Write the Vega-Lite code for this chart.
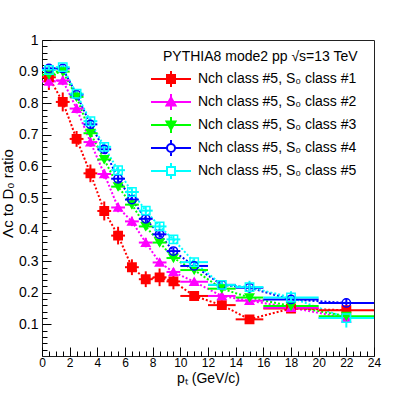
{
  "$schema": "https://vega.github.io/schema/vega-lite/v6.json",
  "width": 332,
  "height": 316,
  "autosize": "none",
  "padding": {"left": 42, "top": 40, "right": 41, "bottom": 41},
  "background": "white",
  "title": {"text": "PYTHIA8 mode2 pp √s=13 TeV", "anchor": "start", "frame": "group", "orient": "top", "offset": 0, "dx": 121, "dy": 42, "baseline": "alphabetic", "fontSize": 14, "fontWeight": "normal", "color": "#000", "font": "Liberation Sans"},
  "config": {
    "font": "Liberation Sans",
    "view": {"stroke": "#222", "strokeWidth": 1},
    "axis": {"grid": false, "domain": false, "tickColor": "#000", "labelColor": "#000", "titleColor": "#000", "titleFontWeight": "normal", "tickWidth": 1}
  },
  "data": {"values": [
    {"s": "Nch class #5, S₀ class #1", "pt": 0.5, "ex": 0.5, "v": 0.882, "ey": 0.04},
    {"s": "Nch class #5, S₀ class #1", "pt": 1.5, "ex": 0.5, "v": 0.804, "ey": 0.03},
    {"s": "Nch class #5, S₀ class #1", "pt": 2.5, "ex": 0.5, "v": 0.687, "ey": 0.025},
    {"s": "Nch class #5, S₀ class #1", "pt": 3.5, "ex": 0.5, "v": 0.578, "ey": 0.028},
    {"s": "Nch class #5, S₀ class #1", "pt": 4.5, "ex": 0.5, "v": 0.459, "ey": 0.03},
    {"s": "Nch class #5, S₀ class #1", "pt": 5.5, "ex": 0.5, "v": 0.381, "ey": 0.028},
    {"s": "Nch class #5, S₀ class #1", "pt": 6.5, "ex": 0.5, "v": 0.281, "ey": 0.025},
    {"s": "Nch class #5, S₀ class #1", "pt": 7.5, "ex": 0.5, "v": 0.243, "ey": 0.025},
    {"s": "Nch class #5, S₀ class #1", "pt": 8.5, "ex": 0.5, "v": 0.249, "ey": 0.028},
    {"s": "Nch class #5, S₀ class #1", "pt": 9.5, "ex": 0.5, "v": 0.236, "ey": 0.025},
    {"s": "Nch class #5, S₀ class #1", "pt": 11, "ex": 1, "v": 0.19, "ey": 0.015},
    {"s": "Nch class #5, S₀ class #1", "pt": 13, "ex": 1, "v": 0.161, "ey": 0.015},
    {"s": "Nch class #5, S₀ class #1", "pt": 15, "ex": 1, "v": 0.116, "ey": 0.012},
    {"s": "Nch class #5, S₀ class #1", "pt": 18, "ex": 2, "v": 0.15, "ey": 0.012},
    {"s": "Nch class #5, S₀ class #1", "pt": 22, "ex": 2, "v": 0.145, "ey": 0.015},
    {"s": "Nch class #5, S₀ class #2", "pt": 0.5, "ex": 0.5, "v": 0.869, "ey": 0.02},
    {"s": "Nch class #5, S₀ class #2", "pt": 1.5, "ex": 0.5, "v": 0.872, "ey": 0.015},
    {"s": "Nch class #5, S₀ class #2", "pt": 2.5, "ex": 0.5, "v": 0.783, "ey": 0.015},
    {"s": "Nch class #5, S₀ class #2", "pt": 3.5, "ex": 0.5, "v": 0.677, "ey": 0.015},
    {"s": "Nch class #5, S₀ class #2", "pt": 4.5, "ex": 0.5, "v": 0.576, "ey": 0.015},
    {"s": "Nch class #5, S₀ class #2", "pt": 5.5, "ex": 0.5, "v": 0.47, "ey": 0.015},
    {"s": "Nch class #5, S₀ class #2", "pt": 6.5, "ex": 0.5, "v": 0.426, "ey": 0.015},
    {"s": "Nch class #5, S₀ class #2", "pt": 7.5, "ex": 0.5, "v": 0.359, "ey": 0.015},
    {"s": "Nch class #5, S₀ class #2", "pt": 8.5, "ex": 0.5, "v": 0.296, "ey": 0.012},
    {"s": "Nch class #5, S₀ class #2", "pt": 9.5, "ex": 0.5, "v": 0.266, "ey": 0.012},
    {"s": "Nch class #5, S₀ class #2", "pt": 11, "ex": 1, "v": 0.235, "ey": 0.01},
    {"s": "Nch class #5, S₀ class #2", "pt": 13, "ex": 1, "v": 0.19, "ey": 0.01},
    {"s": "Nch class #5, S₀ class #2", "pt": 15, "ex": 1, "v": 0.175, "ey": 0.01},
    {"s": "Nch class #5, S₀ class #2", "pt": 18, "ex": 2, "v": 0.153, "ey": 0.01},
    {"s": "Nch class #5, S₀ class #2", "pt": 22, "ex": 2, "v": 0.12, "ey": 0.012},
    {"s": "Nch class #5, S₀ class #3", "pt": 0.5, "ex": 0.5, "v": 0.89, "ey": 0.015},
    {"s": "Nch class #5, S₀ class #3", "pt": 1.5, "ex": 0.5, "v": 0.9, "ey": 0.012},
    {"s": "Nch class #5, S₀ class #3", "pt": 2.5, "ex": 0.5, "v": 0.82, "ey": 0.012},
    {"s": "Nch class #5, S₀ class #3", "pt": 3.5, "ex": 0.5, "v": 0.705, "ey": 0.012},
    {"s": "Nch class #5, S₀ class #3", "pt": 4.5, "ex": 0.5, "v": 0.622, "ey": 0.012},
    {"s": "Nch class #5, S₀ class #3", "pt": 5.5, "ex": 0.5, "v": 0.536, "ey": 0.012},
    {"s": "Nch class #5, S₀ class #3", "pt": 6.5, "ex": 0.5, "v": 0.479, "ey": 0.012},
    {"s": "Nch class #5, S₀ class #3", "pt": 7.5, "ex": 0.5, "v": 0.41, "ey": 0.012},
    {"s": "Nch class #5, S₀ class #3", "pt": 8.5, "ex": 0.5, "v": 0.359, "ey": 0.01},
    {"s": "Nch class #5, S₀ class #3", "pt": 9.5, "ex": 0.5, "v": 0.31, "ey": 0.01},
    {"s": "Nch class #5, S₀ class #3", "pt": 11, "ex": 1, "v": 0.272, "ey": 0.01},
    {"s": "Nch class #5, S₀ class #3", "pt": 13, "ex": 1, "v": 0.213, "ey": 0.01},
    {"s": "Nch class #5, S₀ class #3", "pt": 15, "ex": 1, "v": 0.185, "ey": 0.01},
    {"s": "Nch class #5, S₀ class #3", "pt": 18, "ex": 2, "v": 0.158, "ey": 0.01},
    {"s": "Nch class #5, S₀ class #3", "pt": 22, "ex": 2, "v": 0.126, "ey": 0.012},
    {"s": "Nch class #5, S₀ class #4", "pt": 0.5, "ex": 0.5, "v": 0.91, "ey": 0.012},
    {"s": "Nch class #5, S₀ class #4", "pt": 1.5, "ex": 0.5, "v": 0.91, "ey": 0.01},
    {"s": "Nch class #5, S₀ class #4", "pt": 2.5, "ex": 0.5, "v": 0.827, "ey": 0.01},
    {"s": "Nch class #5, S₀ class #4", "pt": 3.5, "ex": 0.5, "v": 0.733, "ey": 0.012},
    {"s": "Nch class #5, S₀ class #4", "pt": 4.5, "ex": 0.5, "v": 0.654, "ey": 0.012},
    {"s": "Nch class #5, S₀ class #4", "pt": 5.5, "ex": 0.5, "v": 0.561, "ey": 0.012},
    {"s": "Nch class #5, S₀ class #4", "pt": 6.5, "ex": 0.5, "v": 0.495, "ey": 0.012},
    {"s": "Nch class #5, S₀ class #4", "pt": 7.5, "ex": 0.5, "v": 0.434, "ey": 0.012},
    {"s": "Nch class #5, S₀ class #4", "pt": 8.5, "ex": 0.5, "v": 0.385, "ey": 0.01},
    {"s": "Nch class #5, S₀ class #4", "pt": 9.5, "ex": 0.5, "v": 0.332, "ey": 0.01},
    {"s": "Nch class #5, S₀ class #4", "pt": 11, "ex": 1, "v": 0.285, "ey": 0.01},
    {"s": "Nch class #5, S₀ class #4", "pt": 13, "ex": 1, "v": 0.225, "ey": 0.01},
    {"s": "Nch class #5, S₀ class #4", "pt": 15, "ex": 1, "v": 0.216, "ey": 0.01},
    {"s": "Nch class #5, S₀ class #4", "pt": 18, "ex": 2, "v": 0.179, "ey": 0.01},
    {"s": "Nch class #5, S₀ class #4", "pt": 22, "ex": 2, "v": 0.168, "ey": 0.015},
    {"s": "Nch class #5, S₀ class #5", "pt": 0.5, "ex": 0.5, "v": 0.905, "ey": 0.012},
    {"s": "Nch class #5, S₀ class #5", "pt": 1.5, "ex": 0.5, "v": 0.914, "ey": 0.01},
    {"s": "Nch class #5, S₀ class #5", "pt": 2.5, "ex": 0.5, "v": 0.83, "ey": 0.01},
    {"s": "Nch class #5, S₀ class #5", "pt": 3.5, "ex": 0.5, "v": 0.743, "ey": 0.012},
    {"s": "Nch class #5, S₀ class #5", "pt": 4.5, "ex": 0.5, "v": 0.662, "ey": 0.012},
    {"s": "Nch class #5, S₀ class #5", "pt": 5.5, "ex": 0.5, "v": 0.588, "ey": 0.012},
    {"s": "Nch class #5, S₀ class #5", "pt": 6.5, "ex": 0.5, "v": 0.519, "ey": 0.012},
    {"s": "Nch class #5, S₀ class #5", "pt": 7.5, "ex": 0.5, "v": 0.46, "ey": 0.012},
    {"s": "Nch class #5, S₀ class #5", "pt": 8.5, "ex": 0.5, "v": 0.41, "ey": 0.012},
    {"s": "Nch class #5, S₀ class #5", "pt": 9.5, "ex": 0.5, "v": 0.369, "ey": 0.012},
    {"s": "Nch class #5, S₀ class #5", "pt": 11, "ex": 1, "v": 0.297, "ey": 0.012},
    {"s": "Nch class #5, S₀ class #5", "pt": 13, "ex": 1, "v": 0.225, "ey": 0.012},
    {"s": "Nch class #5, S₀ class #5", "pt": 15, "ex": 1, "v": 0.218, "ey": 0.02},
    {"s": "Nch class #5, S₀ class #5", "pt": 18, "ex": 2, "v": 0.185, "ey": 0.02},
    {"s": "Nch class #5, S₀ class #5", "pt": 22, "ex": 2, "v": 0.12, "ey": 0.03}
  ]},
  "resolve": {
    "axis": {"x": "independent", "y": "independent"},
    "scale": {"shape": "independent", "stroke": "independent", "fill": "independent", "color": "independent"}
  },
  "layer": [
    {
      "mark": {"type": "line", "strokeDash": [2, 2], "strokeWidth": 2, "clip": true},
      "encoding": {
        "x": {"field": "pt", "type": "quantitative", "scale": {"domain": [0, 24], "nice": false, "zero": false},
          "axis": {"orient": "bottom", "values": [0, 2, 4, 6, 8, 10, 12, 14, 16, 18, 20, 22, 24], "format": "d", "tickSize": -9, "labelFontSize": 12, "labelPadding": 10, "labelFlush": false, "title": "pₜ (GeV/c)", "titleFontSize": 14, "titlePadding": 3}},
        "y": {"field": "v", "type": "quantitative", "scale": {"domain": [0, 1], "nice": false, "zero": false},
          "axis": {"orient": "left", "values": [0.1, 0.2, 0.3, 0.4, 0.5, 0.6, 0.7, 0.8, 0.9, 1.0], "format": ".1~f", "tickSize": -9, "labelFontSize": 14, "labelPadding": 13, "title": "Λc to D₀ ratio", "titleFontSize": 15, "titlePadding": 3, "titleY": 153}},
        "color": {"field": "s", "type": "nominal", "legend": null, "scale": {"range": ["#ff0000", "#ff00ff", "#00ff00", "#0000ff", "#00ffff"]}}
      }
    },
    {
      "mark": {"type": "errorbar", "thickness": 2, "ticks": false},
      "encoding": {
        "x": {"field": "pt", "type": "quantitative", "axis": null},
        "xError": {"field": "ex"},
        "y": {"field": "v", "type": "quantitative", "axis": null},
        "color": {"field": "s", "type": "nominal", "legend": null, "scale": {"range": ["#ff0000", "#ff00ff", "#00ff00", "#0000ff", "#00ffff"]}}
      }
    },
    {
      "mark": {"type": "errorbar", "thickness": 2, "ticks": false},
      "encoding": {
        "y": {"field": "v", "type": "quantitative", "axis": null},
        "yError": {"field": "ey"},
        "x": {"field": "pt", "type": "quantitative", "axis": null},
        "color": {"field": "s", "type": "nominal", "legend": null, "scale": {"range": ["#ff0000", "#ff00ff", "#00ff00", "#0000ff", "#00ffff"]}}
      }
    },
    {
      "mark": {"type": "point", "size": 70, "strokeWidth": 1.5, "opacity": 1, "fillOpacity": 1},
      "encoding": {
        "x": {"field": "pt", "type": "quantitative", "axis": null},
        "y": {"field": "v", "type": "quantitative", "axis": null},
        "shape": {"field": "s", "type": "nominal", "legend": null, "scale": {"range": ["square", "triangle-up", "triangle-down", "circle", "square"]}},
        "stroke": {"field": "s", "type": "nominal", "legend": null, "scale": {"range": ["#ff0000", "#ff00ff", "#00ff00", "#0000ff", "#00ffff"]}},
        "fill": {"field": "s", "type": "nominal", "legend": null, "scale": {"range": ["#ff0000", "#ff00ff", "#00ff00", "transparent", "transparent"]}}
      }
    },
    {
      "mark": {"type": "point", "opacity": 0, "strokeWidth": 2},
      "encoding": {
        "x": {"field": "pt", "type": "quantitative",
          "axis": {"orient": "bottom", "values": [0.5, 1, 1.5, 2.5, 3, 3.5, 4.5, 5, 5.5, 6.5, 7, 7.5, 8.5, 9, 9.5, 10.5, 11, 11.5, 12.5, 13, 13.5, 14.5, 15, 15.5, 16.5, 17, 17.5, 18.5, 19, 19.5, 20.5, 21, 21.5, 22.5, 23, 23.5], "tickSize": -5, "labels": false, "title": null}},
        "y": {"field": "v", "type": "quantitative",
          "axis": {"orient": "left", "values": [0.02, 0.04, 0.06, 0.08, 0.12, 0.14, 0.16, 0.18, 0.22, 0.24, 0.26, 0.28, 0.32, 0.34, 0.36, 0.38, 0.42, 0.44, 0.46, 0.48, 0.52, 0.54, 0.56, 0.58, 0.62, 0.64, 0.66, 0.68, 0.72, 0.74, 0.76, 0.78, 0.82, 0.84, 0.86, 0.88, 0.92, 0.94, 0.96, 0.98], "tickSize": -5, "labels": false, "title": null}},
        "shape": {"field": "s", "type": "nominal", "title": null, "scale": {"range": [
          "M-1.8,0H2.2M0.2,-0.8V0.8M-0.2,-0.4H0.6V0.4H-0.2Z",
          "M-1.8,0H2.2M0.2,-0.8V0.8M0.2,-0.45L0.65,0.35L-0.25,0.35Z",
          "M-1.8,0H2.2M0.2,-0.8V0.8M0.2,0.45L0.65,-0.35L-0.25,-0.35Z",
          "M-1.8,0H-0.2M0.6,0H2.2M0.2,-0.8V-0.4M0.2,0.4V0.8M0.6,0A0.4,0.4 0 1,1 -0.2,0A0.4,0.4 0 1,1 0.6,0Z",
          "M-1.8,0H-0.2M0.6,0H2.2M0.2,-0.8V-0.4M0.2,0.4V0.8M-0.2,-0.4H0.6V0.4H-0.2Z"
        ]},
          "legend": {"orient": "none", "legendX": 116, "legendY": 28, "symbolSize": 400, "symbolStrokeWidth": 2, "symbolOpacity": 1, "labelFontSize": 14, "labelOffset": 18, "labelLimit": 300, "labelColor": "#000", "rowPadding": -1, "padding": 0,
            "encode": {"symbols": {"update": {"opacity": {"value": 1}}}}}},
        "stroke": {"field": "s", "type": "nominal", "title": null, "scale": {"range": ["#ff0000", "#ff00ff", "#00ff00", "#0000ff", "#00ffff"]}},
        "fill": {"field": "s", "type": "nominal", "title": null, "scale": {"range": ["#ff0000", "#ff00ff", "#00ff00", "white", "white"]}}
      }
    }
  ]
}
